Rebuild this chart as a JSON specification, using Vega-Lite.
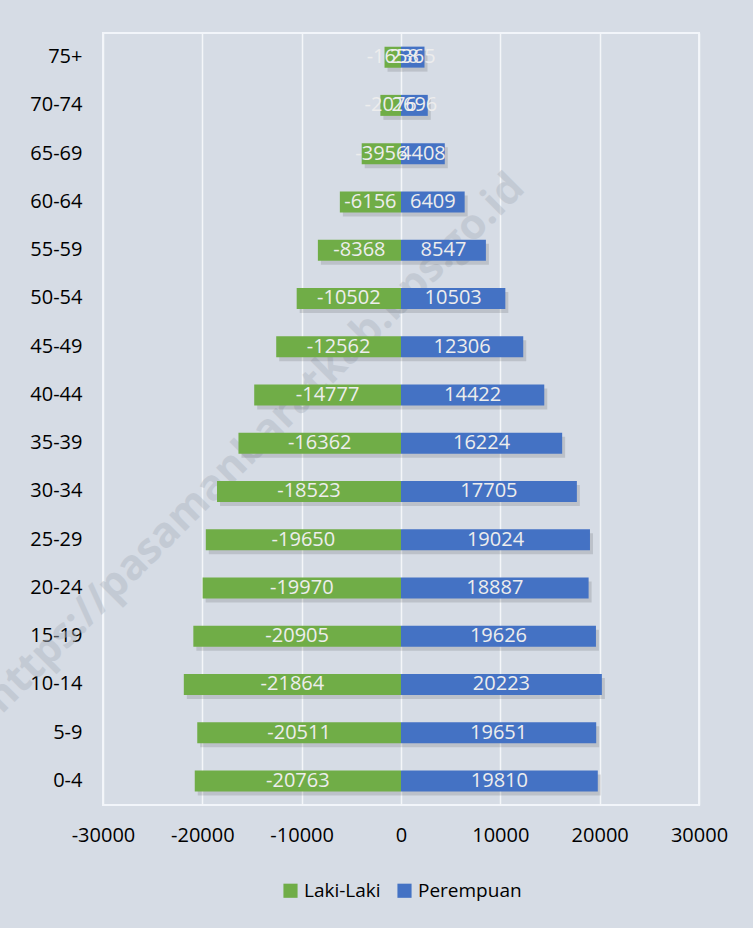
{
  "$schema": "https://vega.github.io/schema/vega-lite/v6.json",
  "width": 596,
  "height": 772,
  "autosize": {"type": "none"},
  "padding": {"left": 103, "top": 33, "right": 54, "bottom": 123},
  "background": "#D6DCE5",
  "config": {
    "view": {"stroke": "#F2F5FA", "strokeWidth": 2},
    "font": "Open Sans",
    "legend": {"layout": {"bottom": {"anchor": "middle"}}}
  },
  "datasets": {
    "pop": [
      {"age": "75+", "sex": "Laki-Laki", "value": -1658},
      {"age": "75+", "sex": "Perempuan", "value": 2365},
      {"age": "70-74", "sex": "Laki-Laki", "value": -2076},
      {"age": "70-74", "sex": "Perempuan", "value": 2696},
      {"age": "65-69", "sex": "Laki-Laki", "value": -3956},
      {"age": "65-69", "sex": "Perempuan", "value": 4408},
      {"age": "60-64", "sex": "Laki-Laki", "value": -6156},
      {"age": "60-64", "sex": "Perempuan", "value": 6409},
      {"age": "55-59", "sex": "Laki-Laki", "value": -8368},
      {"age": "55-59", "sex": "Perempuan", "value": 8547},
      {"age": "50-54", "sex": "Laki-Laki", "value": -10502},
      {"age": "50-54", "sex": "Perempuan", "value": 10503},
      {"age": "45-49", "sex": "Laki-Laki", "value": -12562},
      {"age": "45-49", "sex": "Perempuan", "value": 12306},
      {"age": "40-44", "sex": "Laki-Laki", "value": -14777},
      {"age": "40-44", "sex": "Perempuan", "value": 14422},
      {"age": "35-39", "sex": "Laki-Laki", "value": -16362},
      {"age": "35-39", "sex": "Perempuan", "value": 16224},
      {"age": "30-34", "sex": "Laki-Laki", "value": -18523},
      {"age": "30-34", "sex": "Perempuan", "value": 17705},
      {"age": "25-29", "sex": "Laki-Laki", "value": -19650},
      {"age": "25-29", "sex": "Perempuan", "value": 19024},
      {"age": "20-24", "sex": "Laki-Laki", "value": -19970},
      {"age": "20-24", "sex": "Perempuan", "value": 18887},
      {"age": "15-19", "sex": "Laki-Laki", "value": -20905},
      {"age": "15-19", "sex": "Perempuan", "value": 19626},
      {"age": "10-14", "sex": "Laki-Laki", "value": -21864},
      {"age": "10-14", "sex": "Perempuan", "value": 20223},
      {"age": "5-9", "sex": "Laki-Laki", "value": -20511},
      {"age": "5-9", "sex": "Perempuan", "value": 19651},
      {"age": "0-4", "sex": "Laki-Laki", "value": -20763},
      {"age": "0-4", "sex": "Perempuan", "value": 19810}
    ]
  },
  "data": {"name": "pop"},
  "encoding": {
    "y": {
      "field": "age",
      "type": "nominal",
      "sort": ["75+", "70-74", "65-69", "60-64", "55-59", "50-54", "45-49", "40-44", "35-39", "30-34", "25-29", "20-24", "15-19", "10-14", "5-9", "0-4"],
      "title": null,
      "axis": {
        "domain": false,
        "ticks": false,
        "labelFontSize": 20,
        "labelColor": "#000000",
        "labelPadding": 21,
        "labelFont": "Open Sans"
      }
    }
  },
  "layer": [
    {
      "data": {"values": [{"label": "https://pasamanbaratkab.bps.go.id"}]},
      "mark": {"type": "text", "angle": -45, "fontSize": 42, "fontWeight": "bold", "color": "#AEB5C0", "opacity": 0.45, "align": "center", "baseline": "middle"},
      "encoding": {
        "x": {"datum": -14700, "type": "quantitative"},
        "y": {"datum": "35-39", "type": "nominal"},
        "text": {"field": "label"}
      }
    },
    {
      "mark": {"type": "bar", "size": 21, "color": "#000000", "opacity": 0.12, "yOffset": 4, "xOffset": 3, "x2Offset": 3},
      "encoding": {
        "x": {"field": "value", "type": "quantitative"},
        "x2": {"datum": 0}
      }
    },
    {
      "mark": {"type": "bar", "size": 21},
      "encoding": {
        "x": {
          "field": "value",
          "type": "quantitative",
          "scale": {"domain": [-30000, 30000]},
          "title": null,
          "axis": {
            "values": [-30000, -20000, -10000, 0, 10000, 20000, 30000],
            "labelExpr": "'' + datum.value",
            "labelOverlap": false,
            "labelFlush": false,
            "domain": false,
            "ticks": false,
            "grid": true,
            "gridColor": "#F4F6F9",
            "gridWidth": 1.5,
            "labelFontSize": 20,
            "labelColor": "#000000",
            "labelPadding": 20,
            "labelFont": "Open Sans"
          }
        },
        "x2": {"datum": 0},
        "color": {
          "field": "sex",
          "type": "nominal",
          "scale": {"domain": ["Laki-Laki", "Perempuan"], "range": ["#70AD47", "#4472C4"]},
          "legend": {
            "title": null,
            "orient": "bottom",
            "direction": "horizontal",
            "symbolType": "square",
            "symbolSize": 200,
            "symbolStrokeWidth": 0,
            "labelFontSize": 19,
            "labelColor": "#000000",
            "labelFont": "Open Sans",
            "columnPadding": 14,
            "offset": 36
          }
        }
      }
    },
    {
      "transform": [{"calculate": "datum.value / 2", "as": "mid"}],
      "mark": {"type": "text", "fontSize": 20, "color": "#EDEDED", "baseline": "middle", "align": "center"},
      "encoding": {
        "x": {"field": "mid", "type": "quantitative"},
        "text": {"field": "value", "type": "nominal"}
      }
    }
  ]
}
